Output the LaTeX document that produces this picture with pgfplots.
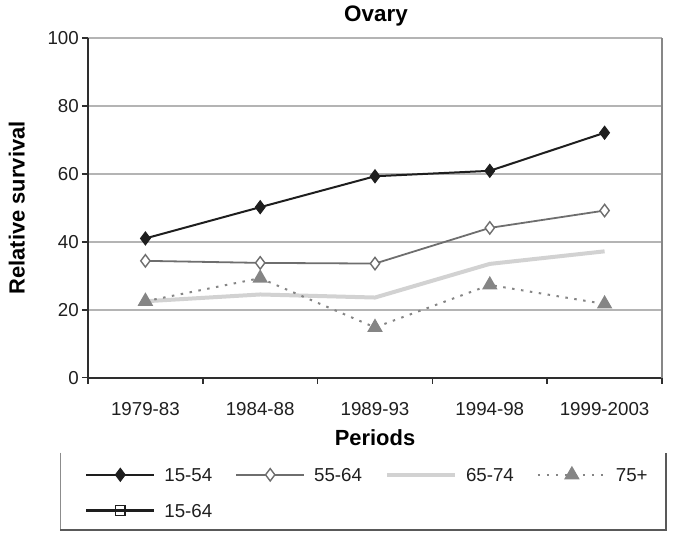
\documentclass[border=0pt]{standalone}
\usepackage{pgfplots}
\pgfplotsset{compat=1.18}
\usepackage{fontspec}
\setmainfont{Liberation Sans}
\definecolor{cA}{HTML}{1E1E1E}
\definecolor{cB}{HTML}{6E6E6E}
\definecolor{cC}{HTML}{D2D2D2}
\definecolor{cD}{HTML}{858585}
\definecolor{gridc}{HTML}{B4B4B4}
\definecolor{axc}{HTML}{2E2E2E}
\begin{document}
\begin{tikzpicture}
\useasboundingbox (-88bp,-160.3bp) rectangle (585bp,377.7bp);
\begin{axis}[
  scale only axis, width=574bp, height=339.7bp,
  at={(0,0)}, anchor=south west,
  xmin=-0.5, xmax=4.5, ymin=0, ymax=100,
  clip=false,
  axis lines=left, axis line style={-, axc, line width=1.6bp},
  xtick={-0.5,0.5,1.5,2.5,3.5,4.5},
  x tick label as interval,
  xticklabels={1979-83,1984-88,1989-93,1994-98,1999-2003},
  ytick={0,20,40,60,80,100},
  tick align=outside, major tick length=6bp,
  tick style={axc, line width=1.5bp},
  ymajorgrids, grid style={gridc, line width=1.8bp},
  /pgf/number format/assume math mode=true,
  ticklabel style={font=\fontsize{18.8}{20}\selectfont, text=black!88},
  yticklabel style={anchor=east, inner sep=0pt, xshift=-3bp},
  xticklabel style={anchor=base, inner sep=0pt, yshift=-31.6bp},
  legend columns=4,
  legend cell align=left,
  legend image code/.code={\draw[mark repeat=2,mark phase=2,#1] plot coordinates {(0bp,0bp)(34bp,0bp)(68bp,0bp)};},
  legend style={at={(rel axis cs:0,0)}, anchor=north west, xshift=-3bp, yshift=-89.9bp,
    draw=none, fill=none, inner sep=0pt, row sep=22.2bp,
    nodes={inner sep=0pt, text height=13.5bp, text depth=0pt, font=\fontsize{18.8}{20}\selectfont, text=black!88},
    /tikz/every odd column/.append style={column sep=9bp},
    /tikz/every even column/.append style={column sep=23bp}},
]
\addplot[cA, line width=2bp, mark=diamond*, mark size=6.5bp, mark options={fill=cA, draw=cA, solid, line width=1bp}]
  coordinates {(0,41.0)(1,50.2)(2,59.3)(3,60.9)(4,72.1)};
\addlegendentry{15-54}
\addplot[cB, line width=1.8bp, mark=diamond*, mark size=6.2bp, mark options={fill=white, draw=cB, solid, line width=1.4bp}]
  coordinates {(0,34.4)(1,33.8)(2,33.6)(3,44.1)(4,49.2)};
\addlegendentry{55-64}
\addplot[cC, line width=4bp]
  coordinates {(0,22.5)(1,24.5)(2,23.6)(3,33.5)(4,37.2)};
\addlegendentry{65-74}
\addplot[cD, line width=2bp, dash pattern=on 2.5bp off 6.5bp, mark=triangle*, mark size=7bp, mark options={fill=cD, draw=cD, solid}]
  coordinates {(0,22.5)(1,29.3)(2,14.8)(3,27.3)(4,21.7)};
\addlegendentry{75+}
\addlegendimage{color=cA, line width=2.2bp, solid, mark=square, mark size=4.8bp, mark options={fill=white, draw=cA, solid, line width=1.4bp}}
\addlegendentry{15-64}
\draw[gridc!75!black, line width=1.4bp] (rel axis cs:1,0) -- (rel axis cs:1,1);
\end{axis}
\node[font=\bfseries\fontsize{22.5}{24}\selectfont, anchor=base] at (288bp,356bp) {Ovary};
\node[font=\bfseries\fontsize{22}{24}\selectfont, anchor=base] at (287bp,-67.3bp) {Periods};
\node[font=\bfseries\fontsize{22}{24}\selectfont, rotate=90, anchor=center] at (-71.3bp,169.8bp) {Relative survival};
\draw[black!45, line width=1.2bp] (-27.5bp,-75bp) -- (-27.5bp,-152.3bp);
\draw[black!65, line width=2bp] (-27.5bp,-152.3bp) -- (578bp,-152.3bp) -- (578bp,-75bp);
\end{tikzpicture}
\end{document}
